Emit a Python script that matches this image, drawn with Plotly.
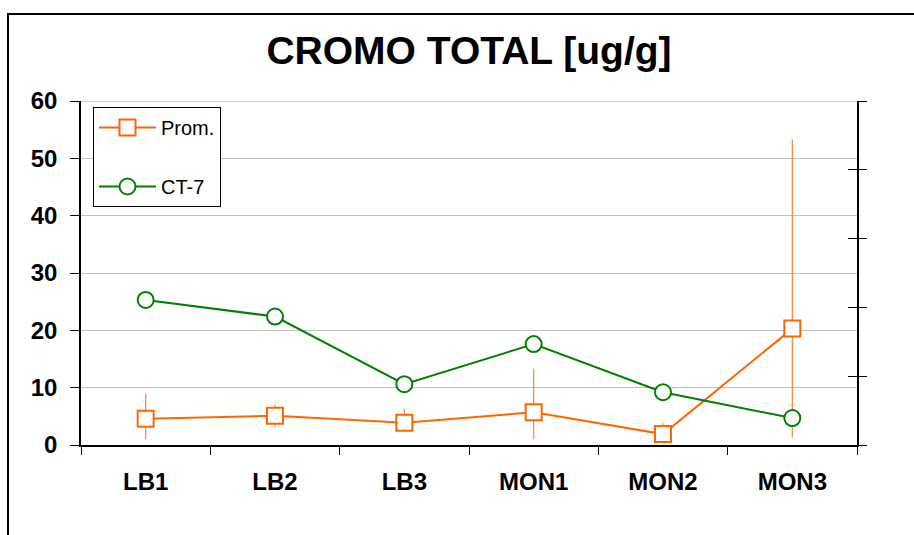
import plotly.graph_objects as go

# Sampling sites and chromium results (ug/g)
sites = ["LB1", "LB2", "LB3", "MON1", "MON2", "MON3"]
prom = [4.6, 5.1, 3.9, 5.7, 1.9, 20.3]
prom_err_plus = [4.4, 1.9, 2.4, 7.6, 1.9, 33.0]
prom_err_minus = [3.6, 2.0, 1.0, 4.7, 1.0, 19.0]
ct7 = [25.3, 22.4, 10.6, 17.6, 9.2, 4.7]

left_ticks = [0, 10, 20, 30, 40, 50, 60]
right_ticks = [0, 10, 20, 30, 40, 50]

W, H = 914, 535
L, R, T, B = 81, 57, 101, 90
pw, ph = W - L - R, H - T - B


def px_x(x):
    return (x - L) / pw


def px_y(y):
    return (H - B - y) / ph


orange = "#FF6600"
green = "#008000"
font_family = "Liberation Sans, Arial, sans-serif"

fig = go.Figure()

fig.add_trace(go.Scatter(
    x=sites, y=prom, name="Prom.", mode="lines+markers",
    legendgroup="a",
    line=dict(color=orange, width=2),
    marker=dict(symbol="square", size=16, color="white",
                line=dict(color=orange, width=2)),
    error_y=dict(type="data", symmetric=False, array=prom_err_plus,
                 arrayminus=prom_err_minus, color="#FF8A3D",
                 thickness=1.3, width=0),
))

fig.add_trace(go.Scatter(
    x=sites, y=ct7, name="CT-7", mode="lines+markers",
    legendgroup="b",
    line=dict(color=green, width=2),
    marker=dict(symbol="circle", size=16, color="white",
                line=dict(color=green, width=2)),
))

# Empty traces so the right-hand (secondary) axis gets rendered
for ax in ("y2", "y3"):
    fig.add_trace(go.Scatter(x=[], y=[], yaxis=ax, showlegend=False,
                             hoverinfo="skip"))

fig.update_layout(
    width=W, height=H,
    margin=dict(l=L, r=R, t=T, b=B),
    paper_bgcolor="white", plot_bgcolor="white",
    font=dict(family=font_family, color="black"),
    title=dict(text="<b>CROMO TOTAL [ug/g]</b>", x=469 / W, xanchor="center",
               y=1 - 50 / H, yanchor="middle", yref="container",
               font=dict(size=39, family=font_family, color="black")),
    showlegend=True,
    legend=dict(x=px_x(93), y=px_y(107), xanchor="left", yanchor="top",
                bgcolor="white", bordercolor="black", borderwidth=1,
                font=dict(size=20, family=font_family),
                tracegroupgap=30, itemwidth=57),
    xaxis=dict(type="category", range=[-0.5, 5.5], tickson="boundaries",
               ticks="outside", ticklen=8, tickcolor="black", tickwidth=1,
               showline=True, linecolor="black", linewidth=1.5,
               showgrid=False, ticklabelstandoff=14,
               tickfont=dict(size=24, family=font_family)),
    yaxis=dict(range=[0, 60], tickvals=left_ticks,
               ticktext=[f"<b>{v}</b>" for v in left_ticks],
               ticks="outside", ticklen=9, tickcolor="black",
               showline=True, linecolor="black", linewidth=1.5,
               showgrid=True, gridcolor="#C0C0C0", gridwidth=1,
               zeroline=False, ticklabelstandoff=8,
               tickfont=dict(size=24, family=font_family)),
    yaxis2=dict(overlaying="y", side="right", anchor="x", range=[0, 50],
                tickvals=right_ticks, showticklabels=False,
                ticks="outside", ticklen=8, tickcolor="black",
                showline=True, linecolor="black", linewidth=1.5,
                showgrid=False, zeroline=False),
    yaxis3=dict(overlaying="y", side="right", anchor="x", range=[0, 50],
                tickvals=right_ticks, showticklabels=False,
                ticks="inside", ticklen=9, tickcolor="black",
                showline=False, showgrid=False, zeroline=False),
    shapes=[
        # top gridline at the axis maximum
        dict(type="line", xref="paper", yref="y", x0=0, x1=1,
             y0=left_ticks[-1], y1=left_ticks[-1],
             line=dict(color="#C0C0C0", width=1.5), layer="below"),
        # outer chart frame
        dict(type="rect", xref="paper", yref="paper",
             x0=px_x(8), x1=px_x(W + 10), y0=px_y(H + 10), y1=px_y(14),
             line=dict(color="black", width=2), fillcolor="rgba(0,0,0,0)",
             layer="above"),
    ],
)

fig.update_xaxes(tickvals=sites, ticktext=[f"<b>{s}</b>" for s in sites])

fig.write_html("out.html")
